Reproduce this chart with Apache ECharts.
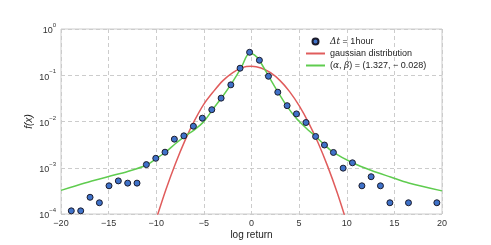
<!DOCTYPE html>
<html><head><meta charset="utf-8">
<script src="https://cdn.jsdelivr.net/npm/echarts@6/dist/echarts.min.js"></script>
<style>html,body{margin:0;padding:0;background:#fff}#c{width:491px;height:245px}</style>
</head><body><div id="c"></div>
<script>
// Empirical points (Δt = 1hour)
const pointX = [-18.92,-17.93,-16.95,-15.97,-14.96,-13.98,-13.0,-12.02,-11.04,-10.05,-9.08,-8.1,-7.1,-6.1,-5.16,-4.17,-3.19,-2.17,-1.2,-0.2,0.83,1.78,2.76,3.74,4.72,5.72,6.73,7.66,8.6,9.62,10.6,11.59,12.56,13.54,14.53,16.48,19.46];
const pointY = [1.17e-4,1.17e-4,2.3e-4,1.75e-4,4.07e-4,5.2e-4,4.65e-4,4.65e-4,1.17e-3,1.6e-3,2.17e-3,4.15e-3,4.9e-3,7.9e-3,1.18e-2,1.8e-2,3.2e-2,6.2e-2,0.142,0.314,0.211,0.095,0.043,0.022,0.0146,0.0095,4.75e-3,3.1e-3,2.14e-3,9.8e-4,1.28e-3,4.07e-4,6.4e-4,4.07e-4,1.75e-4,1.75e-4,1.75e-4];
// Gaussian distribution curve
const gaussX = [-10,-9,-8,-7,-6,-5,-4,-3,-2,-1,0,1,2,3,4,5,6,7,8,9,10];
const gaussY = [7.8e-5,3.31e-4,1.21e-3,3.82e-3,1.03e-2,2.38e-2,4.43e-2,7.65e-2,0.113,0.146,0.1564,0.1438,0.1133,0.0765,0.0443,0.022,9.38e-3,3.43e-3,1.07e-3,2.88e-4,6.6e-5];
// Stable fit curve (alpha, beta) = (1.327, -0.028)
const stableX = [-20,-17.5,-15,-13,-11,-10,-9,-8,-7,-6,-5,-4,-3,-2,-1,-0.5,-0.15,0.3,0.8,1.8,2.8,3.75,4.7,5.75,6.75,7.7,8.6,10.6,12.6,14.6,16.5,20];
const stableY = [3.24e-4,4.68e-4,6.46e-4,8.32e-4,1.15e-3,1.58e-3,2.19e-3,3.31e-3,4.79e-3,6.61e-3,1.0e-2,1.91e-2,3.55e-2,7.08e-2,0.158,0.263,0.299,0.275,0.214,0.0955,0.0427,0.0209,0.01175,7.16e-3,4.72e-3,3.09e-3,2.14e-3,1.28e-3,8.71e-4,6.31e-4,4.68e-4,3.16e-4];
const xTicks = [-20,-15,-10,-5,0,5,10,15,20];
const yTickExps = [-4,-3,-2,-1,0];

const zip = (a,b)=>a.map((v,i)=>[v,b[i]]);
const chart = echarts.init(document.getElementById('c'));
const FONT = 'Liberation Sans, Arial, sans-serif';
chart.setOption({
  animation:false,
  textStyle:{fontFamily:FONT},
  grid:{left:61,right:49,top:29,bottom:31,show:true,borderColor:'#cccccc',borderWidth:1},
  legend:{
    orient:'vertical', left:300, top:32, itemGap:3, itemWidth:19, itemHeight:6,
    textStyle:{fontSize:9,color:'#222',fontFamily:FONT,
      rich:{i:{fontStyle:'italic',fontSize:9,color:'#222',fontFamily:'DejaVu Serif'}}},
    data:[{name:'dt'},{name:'gauss',itemStyle:{opacity:0}},{name:'stable',itemStyle:{opacity:0}}],
    formatter:function(n){
      if(n==='dt') return '{i|Δt} = 1hour';
      if(n==='gauss') return 'gaussian distribution';
      return '({i|α}, {i|β}) = (1.327, − 0.028)';
    }
  },
  xAxis:{type:'value',min:-20,max:20,interval:5,
    name:'log return',nameLocation:'middle',nameGap:16,nameMoveOverlap:false,
    nameTextStyle:{fontSize:10,color:'#222'},
    axisLine:{show:false},axisTick:{show:false},
    axisLabel:{fontSize:9,color:'#333',margin:5,
      formatter:v=> xTicks.includes(v)? String(v).replace('-','−') : ''},
    splitLine:{show:true,lineStyle:{color:'#cccccc',type:[4,3],width:1}}
  },
  yAxis:{type:'log',logBase:10,min:1e-4,max:1,
    name:'f(x)',nameLocation:'middle',nameGap:27,nameRotate:90,nameMoveOverlap:false,
    nameTextStyle:{fontSize:10,color:'#222',fontStyle:'italic'},
    axisLine:{show:false},axisTick:{show:false},
    axisLabel:{fontSize:9,color:'#333',margin:5,
      formatter:function(v){const e=Math.round(Math.log10(v)); if(!yTickExps.includes(e)) return ''; return '{b|10}{s|'+(e===0?'0':'−'+(-e))+'}';},
      rich:{b:{fontSize:9,color:'#333',padding:[4,0,0,0]},s:{fontSize:6,color:'#333',verticalAlign:'top',padding:[0,0,6,0]}}},
    splitLine:{show:true,lineStyle:{color:'#cccccc',type:[4,3],width:1}}
  },
  series:[
    {name:'gauss',type:'line',data:zip(gaussX,gaussY),symbol:'none',smooth:0.3,clip:true,
      lineStyle:{color:'#e05c5c',width:1.5},itemStyle:{color:'#e05c5c'},z:2},
    {name:'stable',type:'line',data:zip(stableX,stableY),symbol:'none',smooth:0.3,clip:true,
      lineStyle:{color:'#5fcc4f',width:1.5},itemStyle:{color:'#5fcc4f'},z:3},
    {name:'dt',type:'scatter',data:zip(pointX,pointY),symbol:'circle',symbolSize:6,
      itemStyle:{color:'#3f72c9',borderColor:'#1b1b2b',borderWidth:1,opacity:1},z:4}
  ]
});
</script></body></html>
